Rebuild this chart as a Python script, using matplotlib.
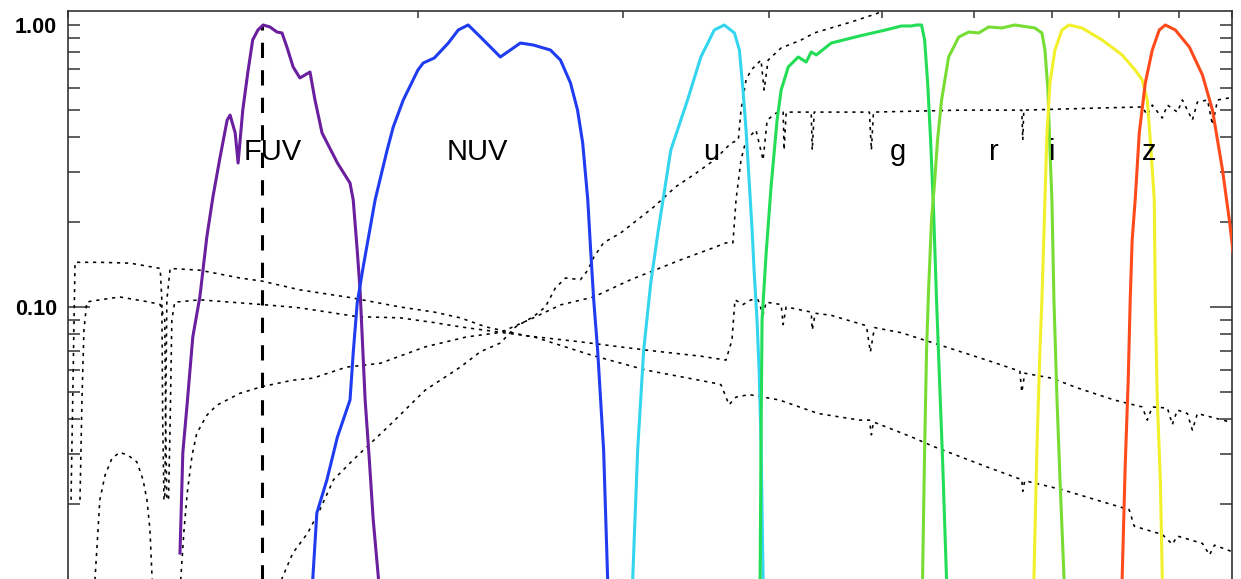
import matplotlib
matplotlib.use("Agg")
import matplotlib.pyplot as plt
from matplotlib.ticker import FixedLocator, NullFormatter, FixedFormatter

plt.rcParams['font.family'] = ['Liberation Sans', 'DejaVu Sans']

# ---------------- filter transmission curves (normalised) ----------------
fuv_wl = [1248, 1255, 1266, 1280, 1298, 1316, 1332, 1351, 1370, 1378, 1392, 1400, 1413, 1427,
          1441, 1456, 1471, 1491, 1512, 1527, 1542, 1561, 1582, 1614, 1630, 1653, 1704, 1747,
          1758, 1772, 1782, 1789, 1800, 1815, 1829, 1848, 1854]
fuv_tr = [0.0134, 0.0304, 0.0457, 0.0783, 0.1085, 0.177, 0.2455, 0.340, 0.460, 0.479, 0.414, 0.324,
          0.499, 0.676, 0.885, 0.960, 1.0, 0.984, 0.944, 0.937, 0.835, 0.710, 0.649, 0.681, 0.542,
          0.414, 0.324, 0.275, 0.240, 0.159, 0.115, 0.0809, 0.0468, 0.0287, 0.0176, 0.0109, 0.0078]

nuv_wl = [1623, 1636, 1669, 1704, 1747, 1758, 1772, 1793, 1836, 1880, 1903, 1941, 1998, 2019, 2064,
          2122, 2164, 2207, 2261, 2352, 2447, 2511, 2597, 2649, 2702, 2740, 2768, 2796, 2812, 2829,
          2851, 2868, 2885, 2908, 2914]
nuv_tr = [0.0109, 0.0186, 0.0244, 0.0346, 0.0468, 0.0687, 0.1033, 0.1386, 0.240, 0.360, 0.435, 0.542,
          0.692, 0.733, 0.764, 0.863, 0.960, 1.0, 0.907, 0.770, 0.863, 0.849, 0.815, 0.751, 0.623,
          0.499, 0.382, 0.240, 0.159, 0.106, 0.0703, 0.0468, 0.0311, 0.0109, 0.0078]

u_wl = [3044, 3056, 3086, 3123, 3167, 3212, 3252, 3295, 3406, 3497, 3591, 3663, 3737, 3774, 3801,
        3824, 3847, 3870, 3885, 3908, 3924, 3939, 3955, 3963]
u_tr = [0.0078, 0.0109, 0.0311, 0.0703, 0.1217, 0.183, 0.254, 0.360, 0.542, 0.770, 0.960, 1.0, 0.937,
        0.815, 0.588, 0.424, 0.282, 0.188, 0.1355, 0.0898, 0.0597, 0.0338, 0.0109, 0.0078]

g_wl = [3925, 3932, 3939, 3947, 3979, 4018, 4066, 4099, 4157, 4240, 4281, 4307, 4350, 4394, 4526,
        4785, 5039, 5200, 5305, 5358, 5411, 5444, 5477, 5509, 5541, 5574, 5607, 5641, 5685, 5707]
g_tr = [0.0078, 0.0109, 0.0338, 0.0898, 0.155, 0.267, 0.460, 0.588, 0.710, 0.770, 0.751, 0.739, 0.802,
        0.783, 0.863, 0.914, 0.960, 0.992, 0.992, 1.0, 1.0, 0.885, 0.623, 0.391, 0.221, 0.106, 0.055,
        0.0287, 0.0109, 0.0078]

r_wl = [5411, 5422, 5444, 5465, 5487, 5519, 5552, 5585, 5630, 5709, 5824, 5940, 6059, 6180, 6342,
        6508, 6770, 6866, 6907, 6948, 6976, 7003, 7031, 7074, 7116, 7173, 7188]
r_tr = [0.0078, 0.0109, 0.0311, 0.0703, 0.115, 0.204, 0.275, 0.391, 0.542, 0.770, 0.906, 0.944, 0.937,
        0.984, 0.976, 1.0, 0.976, 0.937, 0.815, 0.588, 0.360, 0.240, 0.106, 0.0468, 0.0244, 0.0109,
        0.0078]

i_wl = [6744, 6758, 6798, 6839, 6866, 6907, 6935, 6976, 7045, 7144, 7244, 7433, 7734, 8047, 8257,
        8373, 8457, 8507, 8575, 8592, 8626, 8678, 8712, 8729]
i_tr = [0.0078, 0.0109, 0.0311, 0.0703, 0.106, 0.240, 0.414, 0.623, 0.815, 0.960, 1.0, 0.976, 0.885,
        0.783, 0.692, 0.638, 0.542, 0.391, 0.240, 0.106, 0.0468, 0.0244, 0.0109, 0.0078]

z_wl = [8031, 8047, 8095, 8144, 8176, 8208, 8257, 8324, 8424, 8541, 8660, 8764, 8940, 9191, 9432,
        9621, 9814, 9953, 10120]
z_tr = [0.0078, 0.0109, 0.0271, 0.0550, 0.106, 0.173, 0.240, 0.414, 0.623, 0.815, 0.960, 1.0, 0.960,
        0.835, 0.665, 0.499, 0.306, 0.200, 0.110]

filter_names = ['FUV', 'NUV', 'u', 'g', 'r', 'i', 'z']
filter_colors = ['#6a1f9e', '#1f3cf0', '#33d6ee', '#22dd55', '#77dd33', '#f2f02a', '#ff4a1c']
label_wl = [1498, 2248, 3567, 5160, 6242, 7003, 8491]
label_y = 0.332
fuv_eff_wl = 1468

# ---------------- galaxy template spectra (normalised) ----------------
sfA_wl = [1006, 1010, 1014, 1065, 1131, 1176, 1200, 1204, 1206, 1209, 1211, 1213, 1216, 1224, 1298,
          1405, 1468, 1582, 1747, 1929, 2064, 2173, 2285, 2479, 2756, 3139, 3497, 3675, 3719, 3741,
          3801, 3862, 3916, 3955, 3979, 4099, 4115, 4140, 4350, 4359, 4385, 4526, 4852, 4890, 4930,
          5200, 5541, 6156, 6572, 6598, 6637, 7003, 7358, 7920, 8373, 8457, 8541, 8800, 8887, 8976,
          9155, 9246, 9339, 10030]
sfA_fl = [0.0207, 0.0550, 0.144, 0.144, 0.143, 0.139, 0.137, 0.106, 0.0397, 0.0207, 0.0207, 0.0397,
          0.106, 0.137, 0.135, 0.1267, 0.1235, 0.115, 0.108, 0.100, 0.0959, 0.0915, 0.0850, 0.0790,
          0.0752, 0.0703, 0.0669, 0.0648, 0.0763, 0.106, 0.102, 0.106, 0.106, 0.0938, 0.104, 0.102,
          0.0866, 0.100, 0.0959, 0.0828, 0.0950, 0.0934, 0.0858, 0.0692, 0.0845, 0.0810, 0.0745,
          0.0648, 0.0592, 0.0499, 0.0582, 0.0559, 0.0517, 0.0468, 0.0442, 0.0397, 0.0442, 0.0438,
          0.0383, 0.0431, 0.0419, 0.0366, 0.0419, 0.0388]

sfB_wl = [1024, 1028, 1032, 1038, 1065, 1108, 1176, 1200, 1211, 1213, 1216, 1220, 1224, 1228, 1235,
          1298, 1468, 1582, 1772, 1929, 2064, 2173, 2511, 2812, 3139, 3583, 3639, 3668, 3697, 3749,
          3847, 4083, 4411, 4785, 4881, 4900, 4920, 5305, 5541, 6156, 6598, 6611, 6637, 7144, 7734,
          8160, 8241, 8712, 8887, 8976, 9432, 9564, 9660, 10030]
sfB_fl = [0.0207, 0.0468, 0.0828, 0.1042, 0.106, 0.1085, 0.104, 0.102, 0.0898, 0.0397, 0.0207, 0.0207,
          0.0397, 0.0898, 0.104, 0.106, 0.102, 0.0993, 0.0924, 0.0915, 0.0880, 0.0850, 0.0784, 0.0676,
          0.0597, 0.0538, 0.0530, 0.0489, 0.0450, 0.0479, 0.0489, 0.0468, 0.0419, 0.0397, 0.0397,
          0.0352, 0.0391, 0.0346, 0.0320, 0.0271, 0.0244, 0.0222, 0.0242, 0.0225, 0.0204, 0.0191,
          0.0167, 0.0156, 0.0144, 0.0154, 0.0145, 0.0132, 0.0143, 0.0135]

sp_wl = [1245, 1250, 1258, 1266, 1278, 1290, 1316, 1342, 1405, 1468, 1560, 1623, 1735, 1854, 2027,
         2200, 2352, 2511, 2649, 2829, 3044, 3361, 3583, 3675, 3726, 3749, 3786, 3824, 3900, 3955,
         3987, 4058, 4115, 4123, 4140, 4350, 4359, 4376, 4709, 4881, 4900, 4920, 5858, 6342, 6598,
         6611, 6624, 7734, 8373, 8457, 8541, 8712, 8800, 8976, 9065, 9246, 9339, 9527, 9621, 9718,
         10030]
sp_fl = [0.0078, 0.0109, 0.0162, 0.0219, 0.0297, 0.0356, 0.0413, 0.0448, 0.0494, 0.0522, 0.0550,
         0.0559, 0.0612, 0.0631, 0.0722, 0.0783, 0.0812, 0.0915, 0.1017, 0.1085, 0.125, 0.147, 0.162,
         0.1688, 0.1688, 0.240, 0.332, 0.391, 0.424, 0.332, 0.460, 0.487, 0.491, 0.360, 0.491, 0.491,
         0.360, 0.491, 0.491, 0.491, 0.360, 0.491, 0.499, 0.499, 0.499, 0.391, 0.499, 0.508, 0.512,
         0.479, 0.520, 0.468, 0.520, 0.491, 0.542, 0.460, 0.533, 0.542, 0.442, 0.542, 0.555]

ell_wl = [1050, 1055, 1065, 1076, 1091, 1108, 1126, 1146, 1160, 1169, 1176, 1181, 1183, 1300, 1450,
          1518, 1527, 1560, 1607, 1646, 1691, 1758, 1891, 2027, 2173, 2261, 2352, 2424, 2511, 2571,
          2623, 2676, 2756, 2796, 2829, 2885, 2984, 3086, 3185, 3328, 3463, 3591, 3712, 3766, 3786,
          3824, 3862, 3939, 3963, 3995, 4099, 4265, 4376, 4709, 4960, 5050]
ell_fl = [0.0092, 0.0109, 0.0207, 0.0253, 0.0291, 0.0305, 0.0298, 0.0282, 0.0244, 0.0207, 0.0162,
          0.0109, 0.0092, 0.003, 0.003, 0.0078, 0.0109, 0.0134, 0.0158, 0.0191, 0.0244, 0.0287,
          0.0382, 0.0507, 0.0612, 0.0694, 0.0745, 0.0850, 0.0924, 0.100, 0.117, 0.1267, 0.125, 0.135,
          0.150, 0.169, 0.183, 0.204, 0.226, 0.267, 0.298, 0.332, 0.381, 0.391, 0.499, 0.638, 0.692,
          0.751, 0.588, 0.751, 0.829, 0.885, 0.937, 1.025, 1.10, 1.15]

filters_wl = [fuv_wl, nuv_wl, u_wl, g_wl, r_wl, i_wl, z_wl]
filters_tr = [fuv_tr, nuv_tr, u_tr, g_tr, r_tr, i_tr, z_tr]
spectra_wl = [sfA_wl, sfB_wl, sp_wl, ell_wl]
spectra_fl = [sfA_fl, sfB_fl, sp_fl, ell_fl]

ytick_vals = [0.1, 1.0]
ytick_labels = ['0.10', '1.00']

# ---------------- figure ----------------
W, H = 1241, 579
fig = plt.figure(figsize=(W / 100, H / 100), dpi=100)
ax = fig.add_axes([68 / W, 1 - 651.5 / H, (1232 - 68) / W, (651.5 - 11) / H])
ax.set_xscale('log')
ax.set_yscale('log')
ax.set_xlim(1000, 10000)
ax.set_ylim(0.006, 1.121)

for wl, fl in zip(spectra_wl, spectra_fl):
    ax.plot(wl, fl, color='black', lw=1.15, linestyle=(0, (2, 3)), zorder=2)

ax.plot([fuv_eff_wl, fuv_eff_wl], [0.006, 1.0], color='black', lw=2.2,
        linestyle=(0, (5, 4)), zorder=2)

for wl, tr, c in zip(filters_wl, filters_tr, filter_colors):
    ax.plot(wl, tr, color=c, lw=2.2, zorder=3, solid_joinstyle='round')

for name, lx in zip(filter_names, label_wl):
    ax.text(lx, label_y, name, ha='center', va='baseline', fontsize=21, color='black', zorder=4)

# ticks
ax.yaxis.set_major_locator(FixedLocator(ytick_vals))
ax.yaxis.set_major_formatter(FixedFormatter(ytick_labels))
minors = [m * d for d in (0.001, 0.01, 0.1) for m in range(2, 10)]
ax.yaxis.set_minor_locator(FixedLocator(minors))
ax.yaxis.set_minor_formatter(NullFormatter())
ax.xaxis.set_major_locator(FixedLocator([1000, 10000]))
ax.xaxis.set_minor_locator(FixedLocator([m * 1000 for m in range(2, 10)]))
ax.xaxis.set_major_formatter(NullFormatter())
ax.xaxis.set_minor_formatter(NullFormatter())

ax.tick_params(axis='y', which='both', direction='in', left=True, right=True, width=1.1,
               color='#333333', labelsize=15.5, pad=8)
ax.tick_params(axis='y', which='major', length=16)
ax.tick_params(axis='y', which='minor', length=8.5)
ax.tick_params(axis='x', which='both', direction='in', top=True, bottom=True, width=1.1,
               color='#333333', length=5)
for lab in ax.get_yticklabels():
    lab.set_fontweight('bold')
for t in ax.yaxis.get_major_ticks():
    if abs(t.get_loc() - 1.0) < 1e-9:
        t.tick1line.set_markersize(8.5)
        t.tick2line.set_markersize(8.5)

for sp in ax.spines.values():
    sp.set_linewidth(1.2)
    sp.set_color('#333333')

fig.savefig('out.png', dpi=100)
